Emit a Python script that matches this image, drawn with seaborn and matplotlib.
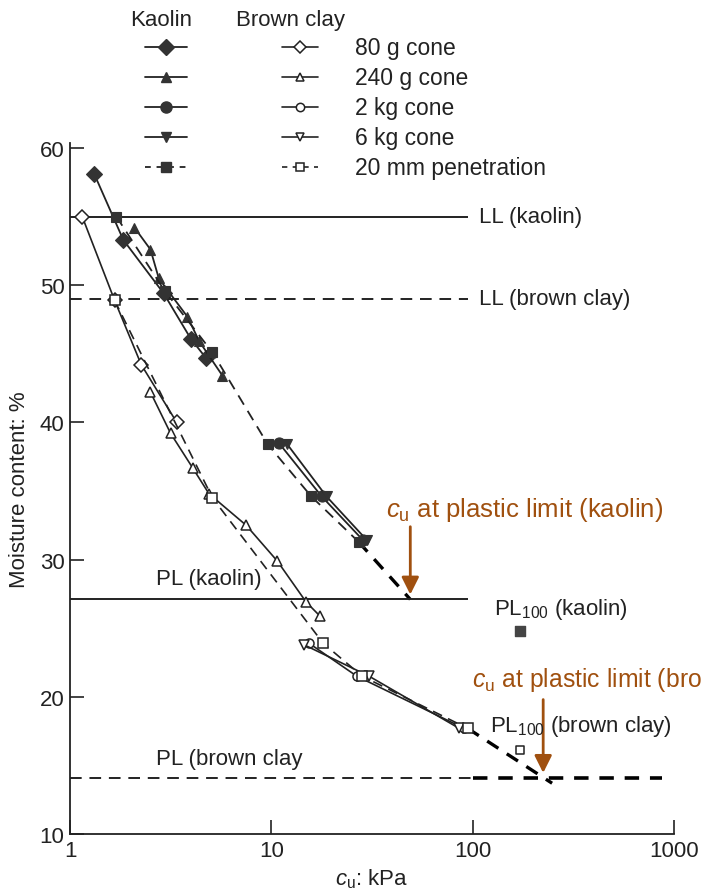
import numpy as np
import pandas as pd
import seaborn as sns
import matplotlib.pyplot as plt

# Kaolin: undrained strength cu (kPa) against moisture content (%)
k80_cu = [1.32, 1.84, 2.92, 3.98, 4.73]
k80_w = [58.1, 53.3, 49.4, 46.1, 44.7]
k240_cu = [2.09, 2.51, 2.76, 3.83, 4.39, 5.72]
k240_w = [54.2, 52.6, 50.5, 47.7, 45.9, 43.4]
k2kg_cu = [10.9, 17.8, 28.6]
k2kg_w = [38.5, 34.6, 31.4]
k6kg_cu = [12.0, 18.8, 29.9]
k6kg_w = [38.4, 34.6, 31.4]
k20_cu = [1.70, 2.95, 5.10, 9.6, 15.8, 27.1]
k20_w = [55.0, 49.6, 45.1, 38.4, 34.6, 31.3]

# Brown clay
b80_cu = [1.15, 1.665, 2.26, 3.39]
b80_w = [55.0, 48.9, 44.2, 40.0]
b240_cu = [2.51, 3.16, 4.06, 4.9, 7.5, 10.7, 14.9, 17.4]
b240_w = [42.2, 39.2, 36.7, 34.8, 32.5, 29.9, 26.9, 25.9]
b2kg_cu = [15.4, 26.6, 90.6]
b2kg_w = [23.9, 21.5, 17.7]
b6kg_cu = [14.5, 30.6, 85.7]
b6kg_w = [23.8, 21.5, 17.7]
b20_cu = [1.665, 5.1, 18.1, 28.3, 94.4]
b20_w = [48.9, 34.5, 23.9, 21.5, 17.7]

# PL100 points
pl100_k = (171, 24.8)
pl100_b = (171, 16.1)

# limits
ll_kaolin, ll_brown = 55.0, 49.0
pl_kaolin, pl_brown = 27.1, 14.1
cu_pl_kaolin, cu_pl_brown = 49.0, 224.0
brown_ext_end = (248, 13.7)

legend_labels = ["80 g cone", "240 g cone", "2 kg cone", "6 kg cone", "20 mm penetration"]
markers = ["D", "^", "o", "v", "s"]

ink = "#222222"
fill_k = "#333333"
arrow_col = "#A0500F"

sns.set_style("ticks")
plt.rcParams["font.family"] = ["Liberation Sans", "DejaVu Sans"]
plt.rcParams["mathtext.fontset"] = "custom"
plt.rcParams["mathtext.rm"] = "Liberation Sans"
plt.rcParams["mathtext.it"] = "Liberation Sans:italic"

fig = plt.figure(figsize=(7.01, 8.95), dpi=100)
ax = fig.add_axes([70 / 701, 1 - 835 / 895, 604 / 701, (835 - 143.5) / 895])

dash = (0, (6, 4))
ksize = {"D": 8.5, "^": 7.5, "o": 8, "v": 7.5, "s": 7.5}
bsize = {"D": 7, "^": 6.5, "o": 6.5, "v": 6.5, "s": 6.5}

kaolin = [(k80_cu, k80_w), (k240_cu, k240_w), (k2kg_cu, k2kg_w), (k6kg_cu, k6kg_w), (k20_cu, k20_w)]
brown = [(b80_cu, b80_w), (b240_cu, b240_w), (b2kg_cu, b2kg_w), (b6kg_cu, b6kg_w), (b20_cu, b20_w)]

for (x, y), m in zip(kaolin, markers):
    sns.lineplot(x=x, y=y, ax=ax, color=ink, lw=1.3, marker=m, markersize=ksize[m],
                 markerfacecolor=fill_k, markeredgecolor=fill_k, markeredgewidth=0.8,
                 linestyle=dash if m == "s" else "-", estimator=None, sort=False, zorder=3)
for (x, y), m in zip(brown, markers):
    sns.lineplot(x=x, y=y, ax=ax, color=ink, lw=1.2, marker=m, markersize=bsize[m],
                 markerfacecolor="white", markeredgecolor=ink, markeredgewidth=1.1,
                 linestyle=dash if m == "s" else "-", estimator=None, sort=False, zorder=3)

# extrapolations to the plastic limit
ax.plot([k20_cu[-1], cu_pl_kaolin], [k20_w[-1], pl_kaolin], color="black", lw=2.4,
        linestyle=(0, (4, 3)), zorder=2)
ax.plot([b20_cu[-1], brown_ext_end[0]], [b20_w[-1], brown_ext_end[1]], color="black", lw=2.4,
        linestyle=(0, (4, 3)), zorder=2)

ax.scatter([pl100_k[0]], [pl100_k[1]], marker="s", s=45, color="#444444", zorder=3)
ax.scatter([pl100_b[0]], [pl100_b[1]], marker="s", s=40, facecolor="white",
           edgecolor=ink, linewidth=1.1, zorder=3)

# liquid and plastic limit lines
ax.hlines(ll_kaolin, 1, 95, color=ink, lw=1.4)
ax.hlines(ll_brown, 1, 95, color=ink, lw=1.4, linestyle=dash)
ax.hlines(pl_kaolin, 1, 95, color=ink, lw=1.4)
ax.hlines(pl_brown, 1, 100, color=ink, lw=1.4, linestyle=dash)
ax.hlines(pl_brown, 100, 870, color="black", lw=2.6, linestyle=(0, (4, 3)))

# arrows
ax.annotate("", xy=(cu_pl_kaolin, pl_kaolin + 0.15), xytext=(cu_pl_kaolin, 32.6),
            arrowprops=dict(arrowstyle="-|>", color=arrow_col, lw=2, mutation_scale=26))
ax.annotate("", xy=(cu_pl_brown, pl_brown + 0.15), xytext=(cu_pl_brown, 20.0),
            arrowprops=dict(arrowstyle="-|>", color=arrow_col, lw=2, mutation_scale=26))

fs = 16
ax.text(37.0, 33.7, r"$c_\mathrm{u}$ at plastic limit (kaolin)", color=arrow_col,
        fontsize=18.5, va="center", ha="left")
ax.text(99, 21.3, r"$c_\mathrm{u}$ at plastic limit (brown clay)", color=arrow_col,
        fontsize=17.8, va="center", ha="left", clip_on=False)
ax.text(107, ll_kaolin, "LL (kaolin)", fontsize=fs, va="center", color=ink)
ax.text(107, ll_brown, "LL (brown clay)", fontsize=fs, va="center", color=ink)
ax.text(2.66, 28.6, "PL (kaolin)", fontsize=fs, va="center", color=ink)
ax.text(2.66, 15.5, "PL (brown clay", fontsize=fs, va="center", color=ink)
ax.text(128, 26.4, r"PL$_\mathregular{100}$ (kaolin)", fontsize=fs, va="center", color=ink)
ax.text(122, 17.9, r"PL$_\mathregular{100}$ (brown clay)", fontsize=fs, va="center", color=ink)

ax.set_xscale("log")
ax.set_xlim(1, 1000)
ax.set_ylim(10, 60.4)
ax.set_xticks([1, 10, 100, 1000], ["1", "10", "100", "1000"])
ax.set_yticks([10, 20, 30, 40, 50, 60])
ax.minorticks_off()
ax.tick_params(direction="in", length=10, width=1.2, labelsize=fs, pad=4, colors=ink)
ax.set_xlabel(r"$c_\mathrm{u}$: kPa", fontsize=fs, labelpad=4, color=ink)
ax.set_ylabel("Moisture content: %", fontsize=fs, labelpad=7, color=ink)
sns.despine(ax=ax)
for s in ["left", "bottom"]:
    ax.spines[s].set_linewidth(1.3)
    ax.spines[s].set_color(ink)

# legend block drawn in figure pixels, above the plot axes
lax = fig.add_axes([0, 0, 1, 1], zorder=5)
lax.set_xlim(0, 701)
lax.set_ylim(895, 0)
lax.axis("off")
lax.patch.set_alpha(0)
lax.text(161, 20, "Kaolin", fontsize=fs, ha="center", va="center", color=ink)
lax.text(291, 20, "Brown clay", fontsize=fs, ha="center", va="center", color=ink)
for i, (m, lab) in enumerate(zip(markers, legend_labels)):
    yy = 48 + 30 * i
    ls = (0, (3.2, 3.2)) if m == "s" else "-"
    lax.plot([145, 166, 187], [yy] * 3, color=ink, lw=1.3, linestyle=ls, marker=m,
             markevery=[1], markersize=ksize[m], markerfacecolor=fill_k, markeredgecolor=fill_k)
    lax.plot([282, 300, 318], [yy] * 3, color=ink, lw=1.2, linestyle=ls, marker=m,
             markevery=[1], markersize=bsize[m] - 0.5, markerfacecolor="white",
             markeredgecolor=ink, markeredgewidth=1.1)
    lax.text(355, yy, lab, fontsize=16.5, va="center", color=ink)

fig.savefig("out.png", dpi=100)
